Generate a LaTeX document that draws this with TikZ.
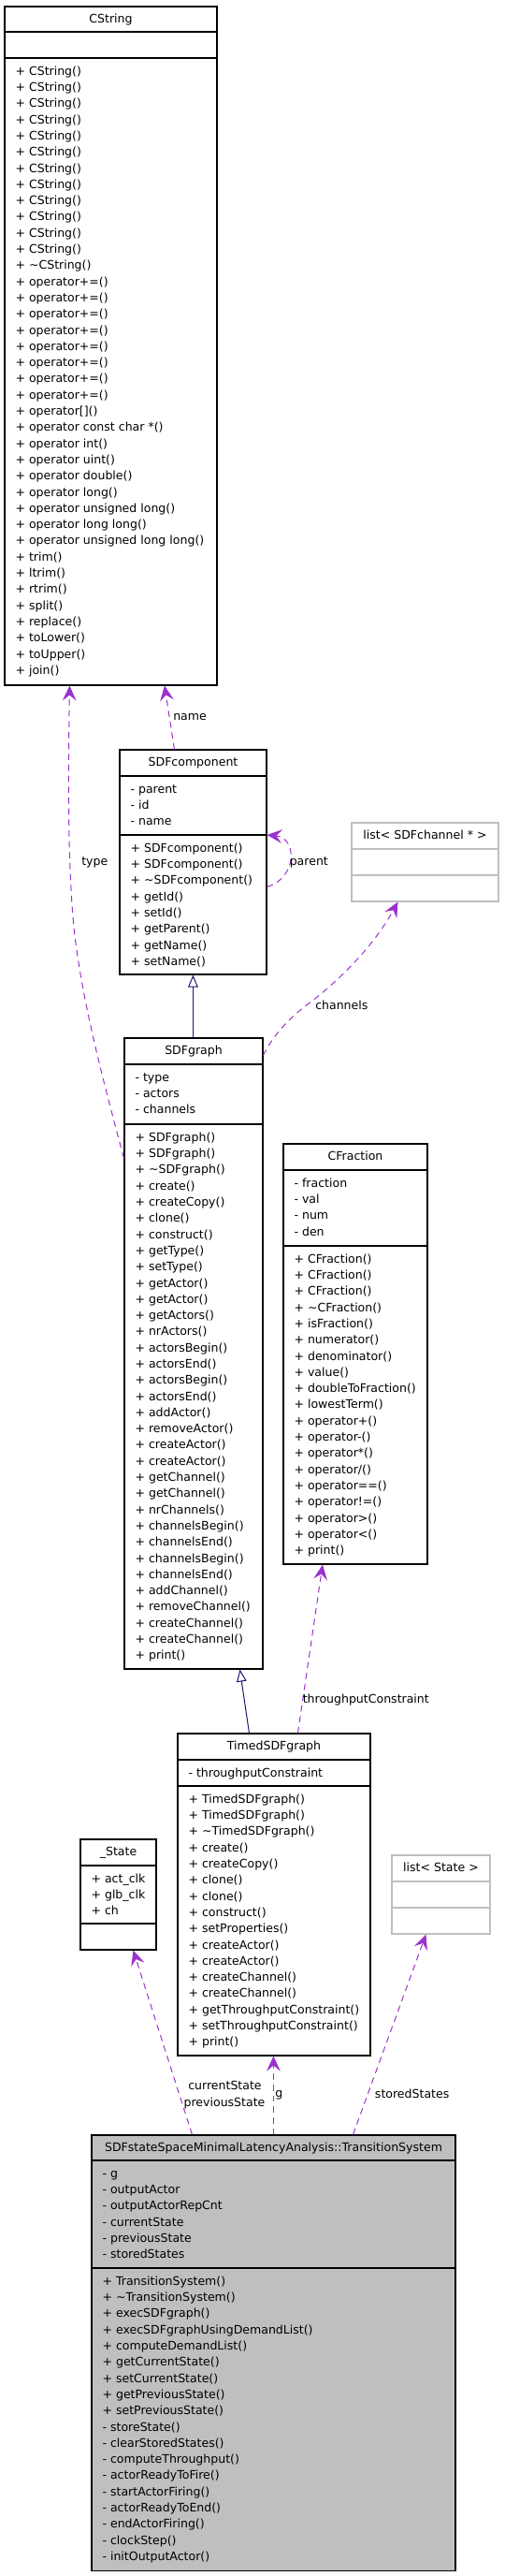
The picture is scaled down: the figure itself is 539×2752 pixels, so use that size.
\documentclass[tikz,border=0pt]{standalone}
\usepackage{fontspec}
\setmainfont{DejaVu Sans}
\usetikzlibrary{arrows.meta,calc,fit}
\definecolor{usecol}{HTML}{9A32CD}
\definecolor{inhcol}{HTML}{191970}
\definecolor{greyseventyfive}{HTML}{BFBFBF}
\newcommand{\dfs}{\fontsize{9.4}{12.975}\selectfont}
\newcommand{\tld}{\textasciitilde}
\begin{document}
\begin{tikzpicture}[x=0.75pt,y=-0.75pt,
  box/.style={draw=black, line width=0.8pt, inner sep=0pt, fill=white},
  graybox/.style={box, fill=greyseventyfive},
  tmplbox/.style={draw=greyseventyfive, line width=0.8pt, inner sep=0pt, fill=white},
  sepline/.style={draw=black, line width=0.8pt},
  tmplsep/.style={draw=greyseventyfive, line width=0.8pt},
  ttl/.style={anchor=base, inner sep=0pt, font=\dfs},
  members/.style={anchor=north west, align=left, inner sep=0pt, font=\dfs},
  elabel/.style={anchor=base west, inner sep=0pt, font=\dfs},
  clabel/.style={anchor=base, inner sep=0pt, font=\dfs},
  usage/.style={draw=usecol, line width=0.75pt, dash pattern=on 5pt off 3.75pt,
    -{Stealth[length=12pt,width=11pt,inset=4.5pt]}},
  inherit/.style={draw=inhcol, line width=0.75pt,
    -{Triangle[open,length=9.75pt,width=8pt]}}
]
\useasboundingbox (0,0) rectangle (539,2752);

% ---------- CString ----------
\node[box, fit={(5,7) (232,732)}] (cstring) {};
\draw[sepline] (5,34) -- (232,34);
\draw[sepline] (5,62) -- (232,62);
\node[ttl] (cstringT) at (118.5,24.3) {CString};
\node[members] (cstringM) at (16.3,67.9) {\strut + CString()\\+ CString()\\+ CString()\\+ CString()\\+ CString()\\+ CString()\\+ CString()\\+ CString()\\+ CString()\\+ CString()\\+ CString()\\+ CString()\\+ \tld CString()\\+ operator+=()\\+ operator+=()\\+ operator+=()\\+ operator+=()\\+ operator+=()\\+ operator+=()\\+ operator+=()\\+ operator+=()\\+ operator[]()\\+ operator const char *()\\+ operator int()\\+ operator uint()\\+ operator double()\\+ operator long()\\+ operator unsigned long()\\+ operator long long()\\+ operator unsigned long long()\\+ trim()\\+ ltrim()\\+ rtrim()\\+ split()\\+ replace()\\+ toLower()\\+ toUpper()\\+ join()};

% ---------- SDFcomponent ----------
\node[box, fit={(128,801) (285,1041)}] (sdfcomp) {};
\draw[sepline] (128,829) -- (285,829);
\draw[sepline] (128,892) -- (285,892);
\node[ttl] (sdfcompT) at (206.5,818.3) {SDFcomponent};
\node[members] (sdfcompA) at (139.3,834.9) {\strut - parent\\- id\\- name};
\node[members] (sdfcompM) at (139.3,897.9) {\strut + SDFcomponent()\\+ SDFcomponent()\\+ \tld SDFcomponent()\\+ getId()\\+ setId()\\+ getParent()\\+ getName()\\+ setName()};

% ---------- list< SDFchannel * > ----------
\node[tmplbox, fit={(376,879) (533,963)}] (listch) {};
\draw[tmplsep] (376,907) -- (533,907);
\draw[tmplsep] (376,935) -- (533,935);
\node[ttl] (listchT) at (454.5,896.3) {list< SDFchannel * >};

% ---------- SDFgraph ----------
\node[box, fit={(133,1109) (281,1783)}] (sdfgraph) {};
\draw[sepline] (133,1137) -- (281,1137);
\draw[sepline] (133,1201) -- (281,1201);
\node[ttl] (sdfgraphT) at (207,1126.3) {SDFgraph};
\node[members] (sdfgraphA) at (144.3,1142.9) {\strut - type\\- actors\\- channels};
\node[members] (sdfgraphM) at (144.3,1206.9) {\strut + SDFgraph()\\+ SDFgraph()\\+ \tld SDFgraph()\\+ create()\\+ createCopy()\\+ clone()\\+ construct()\\+ getType()\\+ setType()\\+ getActor()\\+ getActor()\\+ getActors()\\+ nrActors()\\+ actorsBegin()\\+ actorsEnd()\\+ actorsBegin()\\+ actorsEnd()\\+ addActor()\\+ removeActor()\\+ createActor()\\+ createActor()\\+ getChannel()\\+ getChannel()\\+ nrChannels()\\+ channelsBegin()\\+ channelsEnd()\\+ channelsBegin()\\+ channelsEnd()\\+ addChannel()\\+ removeChannel()\\+ createChannel()\\+ createChannel()\\+ print()};

% ---------- CFraction ----------
\node[box, fit={(303,1222) (457,1671)}] (cfrac) {};
\draw[sepline] (303,1250) -- (457,1250);
\draw[sepline] (303,1331) -- (457,1331);
\node[ttl] (cfracT) at (380,1239.3) {CFraction};
\node[members] (cfracA) at (314.3,1255.9) {\strut - fraction\\- val\\- num\\- den};
\node[members] (cfracM) at (314.3,1336.9) {\strut + CFraction()\\+ CFraction()\\+ CFraction()\\+ \tld CFraction()\\+ isFraction()\\+ numerator()\\+ denominator()\\+ value()\\+ doubleToFraction()\\+ lowestTerm()\\+ operator+()\\+ operator-()\\+ operator*()\\+ operator/()\\+ operator==()\\+ operator!=()\\+ operator>()\\+ operator<()\\+ print()};

% ---------- TimedSDFgraph ----------
\node[box, fit={(190,1852) (396,2196)}] (timed) {};
\draw[sepline] (190,1880) -- (396,1880);
\draw[sepline] (190,1908) -- (396,1908);
\node[ttl] (timedT) at (293,1869.3) {TimedSDFgraph};
\node[members] (timedA) at (201.3,1885.9) {\strut - throughputConstraint};
\node[members] (timedM) at (201.3,1913.9) {\strut + TimedSDFgraph()\\+ TimedSDFgraph()\\+ \tld TimedSDFgraph()\\+ create()\\+ createCopy()\\+ clone()\\+ clone()\\+ construct()\\+ setProperties()\\+ createActor()\\+ createActor()\\+ createChannel()\\+ createChannel()\\+ getThroughputConstraint()\\+ setThroughputConstraint()\\+ print()};

% ---------- _State ----------
\node[box, fit={(86,1965) (167,2083)}] (state) {};
\draw[sepline] (86,1993) -- (167,1993);
\draw[sepline] (86,2055) -- (167,2055);
\node[ttl] (stateT) at (126.5,1982.3) {\_State};
\node[members] (stateA) at (97.3,1998.9) {\strut + act\_clk\\+ glb\_clk\\+ ch};

% ---------- list< State > ----------
\node[tmplbox, fit={(419,1982) (524,2066)}] (liststate) {};
\draw[tmplsep] (419,2010) -- (524,2010);
\draw[tmplsep] (419,2038) -- (524,2038);
\node[ttl] (liststateT) at (471.5,1999.3) {list< State >};

% ---------- TransitionSystem ----------
\node[graybox, fit={(98,2281) (487,2746)}] (ts) {};
\draw[sepline] (98,2308) -- (487,2308);
\draw[sepline] (98,2423) -- (487,2423);
\node[ttl] (tsT) at (292.5,2298.3) {SDFstateSpaceMinimalLatencyAnalysis::TransitionSystem};
\node[members] (tsA) at (109.3,2313.9) {\strut - g\\- outputActor\\- outputActorRepCnt\\- currentState\\- previousState\\- storedStates};
\node[members] (tsM) at (109.3,2428.9) {\strut + TransitionSystem()\\+ \tld TransitionSystem()\\+ execSDFgraph()\\+ execSDFgraphUsingDemandList()\\+ computeDemandList()\\+ getCurrentState()\\+ setCurrentState()\\+ getPreviousState()\\+ setPreviousState()\\- storeState()\\- clearStoredStates()\\- computeThroughput()\\- actorReadyToFire()\\- startActorFiring()\\- actorReadyToEnd()\\- endActorFiring()\\- clockStep()\\- initOutputActor()};

% ---------- connectors ----------
% type : SDFgraph -> CString
\draw[usage] ($(sdfgraph.north west)+(0,129)$) .. controls (112,1160) and (90,1080) .. (80,1000)
  .. controls (72,930) and (73,820) .. ($(cstring.south west)+(70,0)$);
\node[elabel] (typeL) at (87,924) {type};

% name : SDFcomponent -> CString
\draw[usage] ($(sdfcomp.north west)+(59,0)$) -- ($(cstring.south west)+(171.5,0)$);
\node[elabel] (nameL) at (185,769.5) {name};

% parent : self loop
\draw[usage] ($(sdfcomp.north east)+(0,147)$) .. controls (318,938) and (318,895) .. ($(sdfcomp.north east)+(0,91.5)$);
\node[elabel] (parentL) at (309.5,924) {parent};

% channels : SDFgraph -> list< SDFchannel * >
\draw[usage] ($(sdfgraph.north east)+(0,19)$) .. controls (290,1110) and (305,1090) .. (333,1070)
  .. controls (365,1045) and (400,1010) .. ($(listch.south west)+(50,0)$);
\node[elabel] (channelsL) at (337,1078.5) {channels};

% inheritance SDFgraph -> SDFcomponent
\draw[inherit] ($(sdfgraph.north west)+(74,0)$) -- ($(sdfcomp.south west)+(79,0)$);

% throughputConstraint : TimedSDFgraph -> CFraction
\draw[usage] ($(timed.north west)+(129,0)$) -- ($(cfrac.south west)+(42.5,0)$);
\node[elabel] (tcL) at (323.5,1819.5) {throughputConstraint};

% inheritance TimedSDFgraph -> SDFgraph
\draw[inherit] ($(timed.north west)+(77,0)$) -- ($(sdfgraph.south west)+(124,0)$);

% currentState / previousState : TransitionSystem -> _State
\draw[usage] ($(ts.north west)+(108,0)$) -- ($(state.south west)+(57,0)$);
\node[clabel] (curL) at (240.5,2232.8) {currentState};
\node[clabel] (prevL) at (240,2250.1) {previousState};

% g : TransitionSystem -> TimedSDFgraph
\draw[usage] ($(ts.north west)+(195,0)$) -- ($(timed.south west)+(103,0)$);
\node[elabel] (gL) at (294,2240) {g};

% storedStates : TransitionSystem -> list< State >
\draw[usage] ($(ts.north west)+(280,0)$) -- ($(liststate.south west)+(37,0)$);
\node[elabel] (ssL) at (400.7,2241.8) {storedStates};
\end{tikzpicture}
\end{document}
